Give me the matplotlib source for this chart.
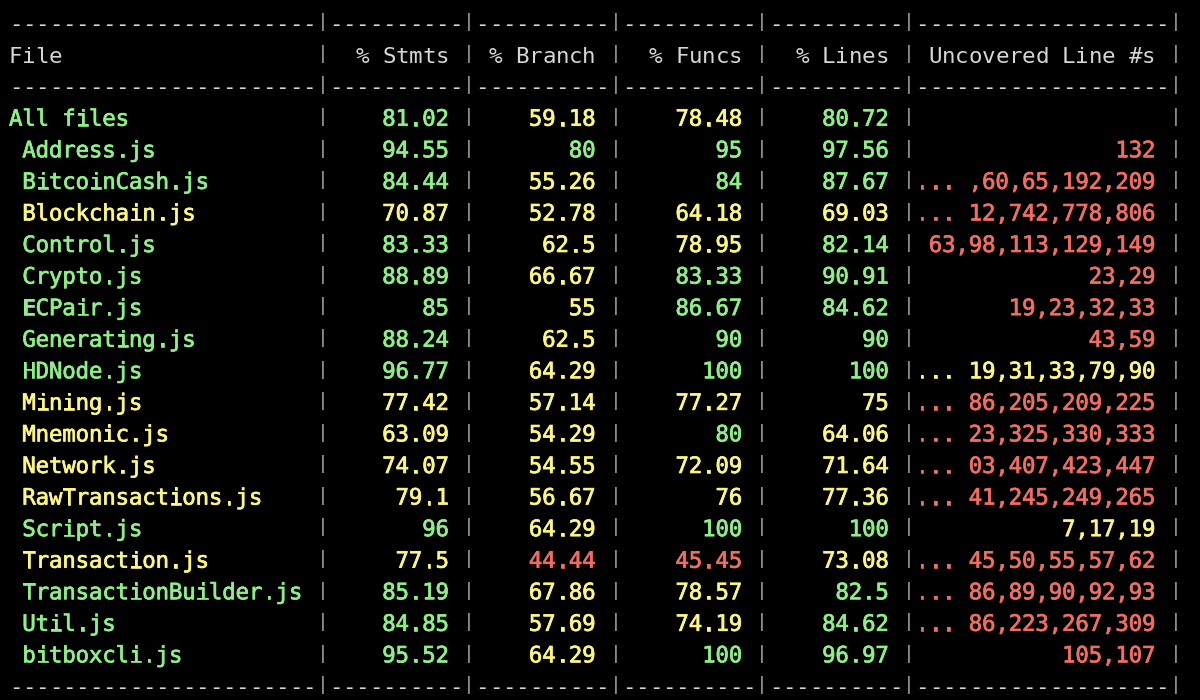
import matplotlib
matplotlib.use("Agg")
import matplotlib.pyplot as plt
import matplotlib.patheffects as pe

# ---- data ----
files = ["All files", "Address.js", "BitcoinCash.js", "Blockchain.js", "Control.js",
         "Crypto.js", "ECPair.js", "Generating.js", "HDNode.js", "Mining.js",
         "Mnemonic.js", "Network.js", "RawTransactions.js", "Script.js",
         "Transaction.js", "TransactionBuilder.js", "Util.js", "bitboxcli.js"]
stmts = [81.02, 94.55, 84.44, 70.87, 83.33, 88.89, 85, 88.24, 96.77, 77.42,
         63.09, 74.07, 79.1, 96, 77.5, 85.19, 84.85, 95.52]
branch = [59.18, 80, 55.26, 52.78, 62.5, 66.67, 55, 62.5, 64.29, 57.14,
          54.29, 54.55, 56.67, 64.29, 44.44, 67.86, 57.69, 64.29]
funcs = [78.48, 95, 84, 64.18, 78.95, 83.33, 86.67, 90, 100, 77.27,
         80, 72.09, 76, 100, 45.45, 78.57, 74.19, 100]
lines_pct = [80.72, 97.56, 87.67, 69.03, 82.14, 90.91, 84.62, 90, 100, 75,
             64.06, 71.64, 77.36, 100, 73.08, 82.5, 84.62, 96.97]
uncovered = ["", "132", "... ,60,65,192,209", "... 12,742,778,806",
             "63,98,113,129,149", "23,29", "19,23,32,33", "43,59",
             "... 19,31,33,79,90", "... 86,205,209,225", "... 23,325,330,333",
             "... 03,407,423,447", "... 41,245,249,265", "7,17,19",
             "... 45,50,55,57,62", "... 86,89,90,92,93", "... 86,223,267,309",
             "105,107"]
headers = ["File", "% Stmts", "% Branch", "% Funcs", "% Lines", "Uncovered Line #s"]

# ---- style ----
BG = "#000000"
GRAY = "#d6d6d6"
PIPE = "#b8b8b8"
GREEN = "#8def86"
YELLOW = "#fbf582"
RED = "#ef6d63"

W_NAME, W_NUM, W_UNC = 23, 10, 19
CW = 13.33          # char cell width (px)
X0 = 9.0            # left edge of first char cell
ROW0 = 23.0         # centre of first line
ROWH = 31.57        # line pitch
FS = 16.2


def fmt(v):
    return f"{v:g}"


def level(v):
    if v >= 80:
        return GREEN
    if v >= 50:
        return YELLOW
    return RED


def seg_line(cells):
    out = []
    for text, col in cells:
        for ch in text:
            out.append((ch, col))
    return out


def dash_line():
    segs = [("-" * W_NAME, GRAY), ("|", PIPE)]
    for _ in range(4):
        segs += [("-" * W_NUM, GRAY), ("|", PIPE)]
    segs += [("-" * W_UNC, GRAY), ("|", PIPE)]
    return seg_line(segs)


def row_line(name_txt, name_col, nums, num_cols, unc, unc_col):
    segs = [(name_txt.ljust(W_NAME), name_col), ("|", PIPE)]
    for t, c in zip(nums, num_cols):
        segs += [(t.rjust(W_NUM - 1) + " ", c), ("|", PIPE)]
    segs += [(unc.rjust(W_UNC - 1) + " ", unc_col), ("|", PIPE)]
    return seg_line(segs)


all_lines = [dash_line()]
all_lines.append(row_line(headers[0], GRAY, headers[1:5], [GRAY] * 4, headers[5], GRAY))
all_lines.append(dash_line())
for i, f in enumerate(files):
    name = f if i == 0 else " " + f
    vals = [stmts[i], branch[i], funcs[i], lines_pct[i]]
    unc_col = RED if lines_pct[i] < 100 else YELLOW
    all_lines.append(row_line(name, level(stmts[i]), [fmt(v) for v in vals],
                              [level(v) for v in vals], uncovered[i], unc_col))
all_lines.append(dash_line())

fig = plt.figure(figsize=(12, 7), dpi=100, facecolor=BG)
ax = fig.add_axes([0, 0, 1, 1])
ax.set_facecolor(BG)
ax.set_xlim(0, 1200)
ax.set_ylim(700, 0)
ax.axis("off")

for r, line in enumerate(all_lines):
    yc = ROW0 + r * ROWH
    for k, (ch, col) in enumerate(line):
        if ch == " ":
            continue
        xc = X0 + (k + 0.5) * CW
        if ch == "|":
            ax.text(xc, yc + 8.0 - 3.7, ch, color=col, fontsize=FS * 0.74,
                    family="DejaVu Sans Mono", ha="center", va="baseline")
        elif col == GRAY:
            ax.text(xc, yc + 8.0, ch, color=col, fontsize=FS,
                    family="DejaVu Sans Mono", ha="center", va="baseline")
        else:
            ax.text(xc, yc + 8.0, ch, color=col, fontsize=FS,
                    family="DejaVu Sans Mono", ha="center", va="baseline",
                    path_effects=[pe.withStroke(linewidth=0.5, foreground=col)])

fig.savefig("out.png", dpi=100, facecolor=BG)
